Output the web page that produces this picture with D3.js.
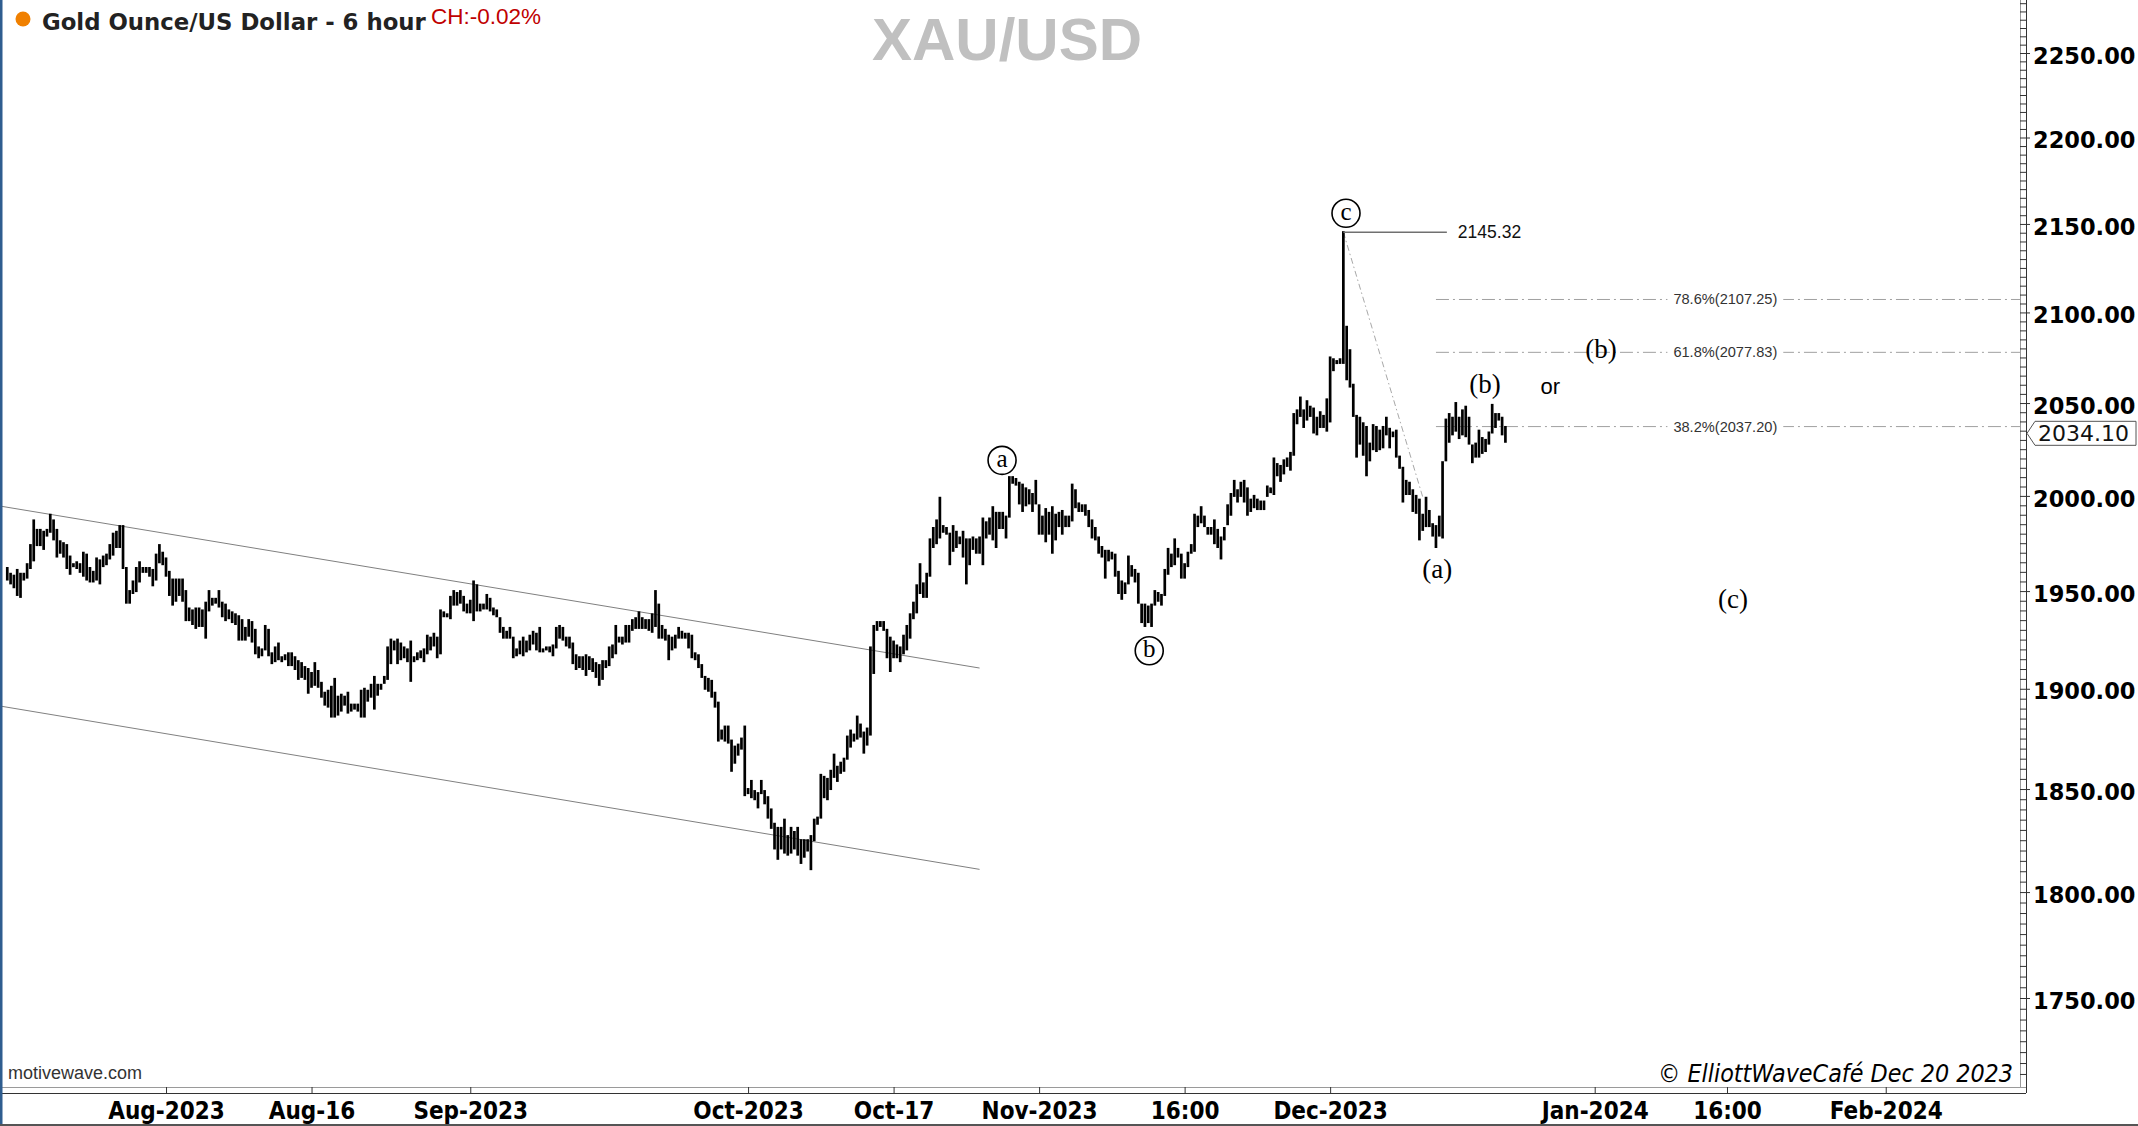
<!DOCTYPE html>
<meta charset="utf-8">
<script src="https://d3js.org/d3.v7.min.js"></script>
<style>
  body { margin: 0; background: #fff; }
</style>
<div id="chart"></div>
<script>
// ---- data: 6 hour bars, high / low ----
var highs = [
  1962,1959,1958,1961,1959,1959,1964,1974,1987,1982,1982,1981,1982,1990,1987,1982,1976,1975,1974,1968,
  1964,1965,1964,1970,1969,1962,1960,1967,1966,1968,1969,1974,1980,1981,1984,1984,1962,1950,1955,1962,
  1965,1962,1962,1962,1961,1969,1974,1970,1967,1960,1956,1956,1956,1956,1950,1941,1940,1941,1941,1940,
  1944,1950,1946,1946,1950,1944,1943,1940,1939,1938,1937,1935,1931,1935,1934,1930,1921,1920,1932,1930,
  1918,1921,1923,1916,1917,1918,1918,1916,1914,1913,1911,1910,1908,1913,1909,1903,1898,1899,1901,1905,
  1896,1897,1896,1898,1892,1892,1892,1899,1900,1899,1902,1906,1902,1902,1906,1921,
  1925,1924,1925,1923,1921,1920,1924,1916,1918,1919,1920,1927,1926,1928,1926,1940,1939,1938,1947,1950,
  1949,1950,1947,1943,1945,1955,1953,1943,1943,1948,1946,1941,1940,1936,1931,1929,1931,1926,1920,1924,
  1926,1924,1927,1929,1928,1931,1920,1921,1921,1922,1931,1932,1931,1926,1926,1923,1917,1916,1916,1917,
  1916,1915,1913,1912,1914,1914,1921,1922,1932,1926,1926,1932,1932,1935,1936,1939,1936,1935,1935,1938,
  1950,1943,1932,1930,1927,1926,1927,1931,1929,1928,1928,1927,1918,1917,1912,1906,1905,1904,1898,1893,
  1879,1881,1881,1874,1871,1872,1875,1881,1850,1854,1849,1848,
  1854,1849,1846,1840,1833,1831,1831,1835,1827,1831,1829,1831,1825,1825,1825,1827,1835,1836,1857,1856,
  1855,1859,1867,1861,1863,1865,1876,1879,1877,1886,1882,1878,1880,1921,1932,1934,1934,1934,1930,1926,
  1924,1922,1921,1927,1932,1938,1944,1953,1964,1954,1959,1977,1983,1987,1999,1984,1983,1980,1984,1981,
  1978,1981,1977,1977,1978,1977,1978,1988,1986,1988,1994,1991,1991,1991,1989,2010,2010,2009,2007,2006,
  2004,2003,2001,2008,1995,1989,1993,1991,1994,1990,1991,1992,1989,1989,2006,2003,1996,1995,1995,1992,
  1987,1983,1978,1973,1971,1971,1970,1969,1960,1955,1954,1968,1963,1961,1959,
  1943,1943,1942,1943,1950,1949,1948,1961,1972,1969,1977,1972,1969,1964,1970,1974,1990,1989,1994,1989,
  1983,1983,1987,1982,1978,1983,1995,2001,2008,2003,2007,2008,2004,1998,2000,1998,1997,1997,2005,2004,
  2020,2017,2016,2019,2020,2023,2044,2046,2053,2046,2051,2048,2047,2042,2045,2043,2052,2075,2074,2073,
  2074,2145.32,2092,2079,2060,2043,2042,2039,2037,2028,2038,2037,2035,2037,2042,2036,2034,2035,2021,2015,
  2008,2007,2003,2000,1998,1990,1999,1992,1985,1984,1989,2018,2041,2044,2042,2050,2042,2046,2048,2042,
  2027,2028,2035,2031,2030,2034,2049,2044,2044,2042,2037
];
var lows = [
  1956,1954,1952,1948,1947,1956,1957,1962,1966,1974,1974,1972,1979,1981,1977,1968,1970,1968,1962,1959,
  1963,1962,1960,1958,1956,1955,1955,1956,1954,1963,1964,1967,1969,1973,1973,1962,1944,1944,1949,1950,
  1955,1960,1960,1958,1953,1956,1965,1964,1958,1948,1943,1945,1948,1945,1935,1935,1933,1931,1932,1932,
  1926,1940,1943,1944,1942,1937,1935,1936,1934,1933,1925,1925,1925,1927,1924,1918,1916,1917,1920,1917,
  1913,1914,1915,1914,1915,1912,1912,1910,1905,1906,1905,1898,1901,1902,1901,1896,1892,1891,1886,1886,
  1887,1889,1892,1888,1889,1890,1889,1886,1886,1894,1896,1890,1897,1900,1903,1905,
  1913,1920,1913,1915,1916,1914,1904,1914,1915,1916,1914,1918,1920,1922,1916,1918,1937,1937,1936,1943,
  1943,1944,1940,1939,1939,1935,1940,1940,1941,1941,1940,1938,1937,1929,1926,1926,1926,1916,1917,1918,
  1917,1919,1920,1923,1920,1919,1919,1920,1919,1917,1921,1926,1925,1922,1921,1913,1910,1911,1910,1907,
  1910,1909,1906,1902,1905,1911,1912,1916,1918,1924,1923,1924,1924,1930,1931,1931,1931,1931,1930,1929,
  1932,1926,1926,1925,1915,1920,1921,1926,1926,1926,1921,1916,1915,1911,1906,1900,1899,1896,1891,1874,
  1875,1874,1873,1859,1863,1867,1870,1847,1848,1846,1845,1841,
  1848,1843,1836,1831,1821,1816,1821,1819,1818,1819,1821,1818,1814,1817,1820,1811,1825,1833,1836,1846,
  1845,1850,1856,1854,1858,1859,1865,1871,1874,1875,1876,1868,1872,1877,1908,1930,1932,1930,1916,1909,
  1916,1916,1914,1918,1920,1926,1936,1939,1949,1947,1947,1958,1973,1975,1978,1981,1980,1964,1971,1973,
  1975,1968,1954,1964,1972,1970,1970,1964,1978,1980,1977,1973,1983,1983,1978,1989,2007,2006,1996,1992,
  1995,1996,1992,1996,1980,1980,1976,1980,1970,1977,1984,1980,1984,1984,1987,1994,1992,1992,1990,1984,
  1978,1977,1970,1968,1957,1966,1967,1958,1949,1946,1949,1954,1958,1955,1944,
  1934,1932,1934,1932,1943,1945,1943,1948,1959,1963,1964,1968,1957,1957,1963,1970,1971,1984,1986,1984,
  1980,1980,1975,1973,1967,1977,1985,1990,2000,1997,2000,1997,1990,1992,1994,1993,1993,1993,2000,2002,
  2001,2011,2008,2012,2016,2014,2022,2039,2043,2037,2041,2043,2034,2033,2037,2037,2035,2040,2068,2072,
  2072,2072,2063,2059,2043,2021,2028,2022,2011,2019,2025,2024,2025,2026,2033,2026,2032,2021,2015,1997,
  2001,2001,1992,1991,1977,1982,1984,1984,1979,1973,1979,1978,2019,2029,2033,2035,2031,2033,2032,2028,
  2018,2021,2021,2023,2024,2028,2034,2037,2041,2033,2029
];
var lastPrice = 2034.10;
var firstDay = "2023-07-14";      // first bar of the series
var barsPerDay = 4;               // 6 hour bars
var holidays = ["2023-12-25", "2024-01-01"];

var yTicks = [1750, 1800, 1850, 1900, 1950, 2000, 2050, 2100, 2150, 2200, 2250];
var xTickDates = ["2023-08-01", "2023-08-16", "2023-09-01", "2023-10-01", "2023-10-17", "2023-11-01",
                  "2023-11-16", "2023-12-01", "2024-01-01", "2024-01-16", "2024-02-01"];
var xTickLabels = ["Aug-2023", "Aug-16", "Sep-2023", "Oct-2023", "Oct-17", "Nov-2023",
                   "16:00", "Dec-2023", "Jan-2024", "16:00", "Feb-2024"];

// swing used for the retracement
var peakBar = 404, peakPrice = 2145.32;
var fibStartBar = 432;
var fibPct = ["78.6%", "61.8%", "38.2%"];
var fibValues = [2107.25, 2077.83, 2037.20];

// channel lines [bar, price] -> [bar, price]
var channelUpper = [[-2.2, 1994.6], [294, 1910.5]];
var channelLower = [[-2.2, 1891.3], [294, 1810.9]];
var diagonal = [[peakBar, peakPrice], [428, 1999.4]];

// wave labels
var waveText   = ["a", "b", "c", "(a)", "(b)", "or", "(b)", "(c)"];
var waveBar    = [300.8, 345.3, 404.8, 432.4, 446.8, 466.6, 481.9, 521.8];
var wavePrice  = [2019.0, 1919.3, 2156.1, 1961.3, 2060.3, 2059.2, 2079.6, 1945.7];
var waveCircle = [true, true, true, false, false, false, false, false];

// ---- layout ----
var W = 2138, H = 1126;
var plotRight = 2020, axisX = 2026, plotBottom = 1087;

var svg = d3.select("#chart").append("svg")
    .attr("width", W)
    .attr("height", H);

svg.append("rect").attr("width", W).attr("height", H).attr("fill", "#fff");

var parse = d3.timeParse("%Y-%m-%d");
var fmt = d3.timeFormat("%Y-%m-%d");
var holidaySet = new Set(holidays);
function tradingIndex(dateStr) {
  return d3.timeDay.range(parse(firstDay), parse(dateStr))
    .filter(function(d) { return d.getDay() % 6 !== 0 && !holidaySet.has(fmt(d)); })
    .length;
}

var x = d3.scaleLinear().domain([-2.2, 608.6]).range([0, plotRight]);
var y = d3.scaleLog().domain([1750, 2250]).range([998, 53]);

// clip for the price area
svg.append("defs").append("clipPath").attr("id", "plotclip")
  .append("rect").attr("x", 0).attr("y", 0).attr("width", plotRight).attr("height", plotBottom);

var plot = svg.append("g").attr("clip-path", "url(#plotclip)");

// channel lines
var line = d3.line().x(function(d) { return x(d[0]); }).y(function(d) { return y(d[1]); });
[channelUpper, channelLower].forEach(function(c) {
  plot.append("path").attr("d", line(c))
    .attr("fill", "none").attr("stroke", "#808080").attr("stroke-width", 1);
});

// fib lines
fibValues.forEach(function(v, i) {
  plot.append("line")
    .attr("x1", x(fibStartBar)).attr("x2", plotRight)
    .attr("y1", y(v)).attr("y2", y(v))
    .attr("stroke", "#a0a0a0").attr("stroke-width", 1)
    .attr("stroke-dasharray", "13,4,2,4");
});

// diagonal from the top
plot.append("path").attr("d", line(diagonal))
  .attr("fill", "none").attr("stroke", "#a8a8a8").attr("stroke-width", 1)
  .attr("stroke-dasharray", "6,3,1.5,3");

// bars
plot.append("g").selectAll("line")
  .data(highs)
  .enter()
  .append("line")
    .attr("x1", function(d, i) { return x(i); })
    .attr("x2", function(d, i) { return x(i); })
    .attr("y1", function(d) { return y(d) - 1; })
    .attr("y2", function(d, i) { return Math.max(y(lows[i]), y(d) + 2) + 1; })
    .attr("stroke", "#000")
    .attr("stroke-width", 2.7);

// peak marker line and value
plot.append("line")
  .attr("x1", x(peakBar)).attr("x2", x(435.3))
  .attr("y1", y(peakPrice)).attr("y2", y(peakPrice))
  .attr("stroke", "#707070").attr("stroke-width", 1.5);
svg.append("text")
  .attr("x", x(435.3) + 11).attr("y", y(peakPrice))
  .attr("dominant-baseline", "central")
  .style("font-family", "'Liberation Sans', Arial, sans-serif")
  .style("font-size", "17.5px")
  .attr("fill", "#111")
  .text(peakPrice.toFixed(2));

// fib labels, with white behind so the line breaks
fibValues.forEach(function(v, i) {
  var t = svg.append("text")
    .attr("x", x(519.5)).attr("y", y(v))
    .attr("text-anchor", "middle")
    .attr("dominant-baseline", "central")
    .style("font-family", "'Liberation Sans', Arial, sans-serif")
    .style("font-size", "14.6px")
    .attr("fill", "#333")
    .text(fibPct[i] + "(" + v.toFixed(2) + ")");
  var b = t.node().getBBox();
  svg.insert("rect", function() { return t.node(); })
    .attr("x", b.x - 6).attr("y", y(v) - 3).attr("width", b.width + 12).attr("height", 6)
    .attr("fill", "#fff");
});

// wave labels
waveText.forEach(function(txt, i) {
  var cx = x(waveBar[i]), cy = y(wavePrice[i]);
  if (waveCircle[i]) {
    svg.append("circle").attr("cx", cx).attr("cy", cy).attr("r", 14)
      .attr("fill", "#fff").attr("stroke", "#000").attr("stroke-width", 1.6);
  }
  svg.append("text")
    .attr("x", cx).attr("y", waveCircle[i] ? cy - 2 : cy)
    .attr("text-anchor", "middle")
    .attr("dominant-baseline", "central")
    .style("font-family", txt === "or" ? "'Liberation Sans', Arial, sans-serif" : "'Liberation Serif', 'Times New Roman', serif")
    .style("font-size", txt === "or" ? "22px" : (waveCircle[i] ? "25px" : "27px"))
    .attr("fill", "#000")
    .text(txt);
});

// ---- frame ----
svg.append("line").attr("x1", 0).attr("x2", axisX).attr("y1", plotBottom + 0.5).attr("y2", plotBottom + 0.5)
  .attr("stroke", "#9a9a9a");
svg.append("line").attr("x1", plotRight + 0.5).attr("x2", plotRight + 0.5).attr("y1", 0).attr("y2", plotBottom)
  .attr("stroke", "#9a9a9a");

// y axis
var minorTicks = d3.range(1715, 2285, 5);
var yMinor = svg.append("g").attr("transform", "translate(" + axisX + ",0)")
  .call(d3.axisLeft(y).tickValues(minorTicks).tickSize(6).tickFormat(""));
yMinor.select(".domain").attr("stroke", "#333").attr("d", "M0.5,0V" + (plotBottom + 6));
yMinor.selectAll(".tick line").attr("stroke", "#333");

var yAxis = svg.append("g").attr("transform", "translate(" + axisX + ",0)")
  .call(d3.axisRight(y).tickValues(yTicks).tickSize(4).tickPadding(3).tickFormat(d3.format(".2f")));
yAxis.select(".domain").remove();
yAxis.selectAll(".tick line").attr("stroke", "#333");
yAxis.selectAll(".tick text")
  .attr("dy", "0.45em")
  .style("font-family", "'DejaVu Sans', Verdana, sans-serif")
  .style("font-size", "22.5px")
  .style("font-weight", "bold")
  .attr("fill", "#000");

// last price tag
var ly = y(lastPrice) + 1;
svg.append("path")
  .attr("d", "M" + (axisX + 1) + "," + ly + "L" + (axisX + 9) + "," + (ly - 12) + "H" + 2136 +
             "V" + (ly + 12) + "H" + (axisX + 9) + "Z")
  .attr("fill", "#fff").attr("stroke", "#555").attr("stroke-width", 1);
svg.append("text")
  .attr("x", axisX + 12).attr("y", ly)
  .attr("dominant-baseline", "central")
  .style("font-family", "'DejaVu Sans', Verdana, sans-serif")
  .style("font-size", "22px")
  .attr("fill", "#111")
  .text(lastPrice.toFixed(2));

// x axis
var tickBars = xTickDates.map(function(d) { return barsPerDay * tradingIndex(d); });
var xAxis = svg.append("g").attr("transform", "translate(0," + plotBottom + ")")
  .call(d3.axisBottom(x).tickValues(tickBars).tickSize(6).tickPadding(9)
    .tickFormat(function(d, i) { return xTickLabels[i]; }));
xAxis.select(".domain").remove();
xAxis.selectAll(".tick line").attr("stroke", "#333");
xAxis.selectAll(".tick text")
  .style("font-family", "'DejaVu Sans Condensed', 'DejaVu Sans', sans-serif")
  .style("font-size", "24px")
  .style("font-weight", "bold")
  .attr("fill", "#000");
svg.append("line").attr("x1", 0).attr("x2", axisX).attr("y1", plotBottom + 6.5).attr("y2", plotBottom + 6.5)
  .attr("stroke", "#333");

// borders
svg.append("rect").attr("x", 0).attr("y", 0).attr("width", 2.5).attr("height", H).attr("fill", "#2f5d8f");
svg.append("line").attr("x1", 0).attr("x2", W).attr("y1", H - 1).attr("y2", H - 1).attr("stroke", "#555").attr("stroke-width", 2);

// ---- titles ----
svg.append("circle").attr("cx", 23).attr("cy", 19).attr("r", 7.5).attr("fill", "#f08000");
svg.append("text")
  .attr("x", 42).attr("y", 30)
  .style("font-family", "'DejaVu Sans', Verdana, sans-serif")
  .style("font-size", "22.8px").style("font-weight", "bold")
  .attr("fill", "#222")
  .text("Gold Ounce/US Dollar - 6 hour");
svg.append("text")
  .attr("x", 431).attr("y", 24)
  .style("font-family", "'Liberation Sans', Arial, sans-serif")
  .style("font-size", "22.5px")
  .attr("fill", "#c00000")
  .text("CH:-0.02%");
svg.append("text")
  .attr("x", 1007).attr("y", 60)
  .attr("text-anchor", "middle")
  .style("font-family", "'Liberation Sans', Arial, sans-serif")
  .style("font-size", "60px").style("font-weight", "bold")
  .attr("fill", "#c0c0c0")
  .text("XAU/USD");

// ---- footer ----
svg.append("text")
  .attr("x", 8).attr("y", 1079)
  .style("font-family", "'Liberation Sans', Arial, sans-serif")
  .style("font-size", "18px")
  .attr("fill", "#333")
  .text("motivewave.com");
svg.append("text")
  .attr("x", 2013).attr("y", 1082)
  .attr("text-anchor", "end")
  .style("font-family", "'DejaVu Sans Condensed', 'DejaVu Sans', sans-serif")
  .style("font-size", "24.8px").style("font-style", "italic")
  .attr("fill", "#000")
  .text("\u00a9 ElliottWaveCaf\u00e9 Dec 20 2023");
</script>
